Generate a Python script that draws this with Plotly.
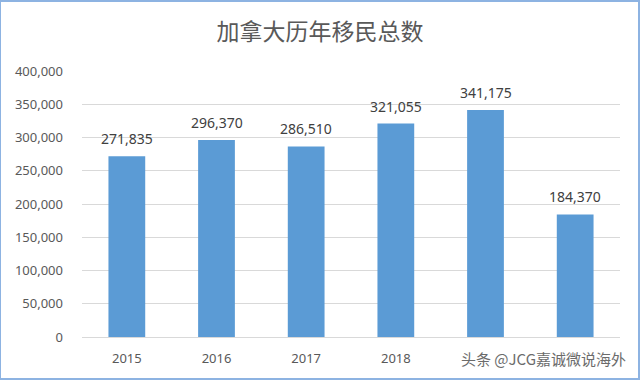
import plotly.graph_objects as go

years = ["2015", "2016", "2017", "2018", "2019", "2020"]
immigrants = [271835, 296370, 286510, 321055, 341175, 184370]
labels = [f"{v:,}" for v in immigrants]
title_text = "加拿大历年移民总数"
watermark = "头条 @JCG嘉诚微说海外"

fig = go.Figure()
fig.add_trace(go.Bar(
    x=years, y=immigrants,
    marker=dict(color="#5B9BD5", line=dict(width=0)),
))

# data labels: category index positions on the category axis
for i, (v, lab) in enumerate(zip(immigrants, labels)):
    fig.add_annotation(x=i, y=v, xref="x", yref="y", text=lab, showarrow=False,
                       yanchor="bottom", yshift=6,
                       font=dict(size=14, color="#404040", family="Noto Sans, Open Sans, sans-serif"))

fig.update_layout(
    width=640, height=380,
    margin=dict(l=82, r=20, t=71, b=43),
    paper_bgcolor="white", plot_bgcolor="white",
    bargap=0.59,
    showlegend=False,
    title=dict(text=title_text, x=0.5, xanchor="center", y=0.915, yanchor="middle",
               font=dict(size=23, color="#595959", family="Noto Sans CJK SC")),
    xaxis=dict(type="category", categoryorder="array", categoryarray=years,
               range=[-0.5, len(years) - 0.5],
               showgrid=False, showline=False, ticks="", ticklabelstandoff=12,
               tickfont=dict(size=13, color="#595959", family="Noto Sans, sans-serif")),
    yaxis=dict(range=[0, 400000], dtick=50000, tickformat=",",
               showgrid=True, gridcolor="#D9D9D9", gridwidth=1,
               zeroline=True, zerolinecolor="#D9D9D9", zerolinewidth=1,
               ticks="", ticklabelstandoff=18,
               tickfont=dict(size=13, color="#595959", family="Noto Sans, sans-serif")),
    font=dict(family="Noto Sans, sans-serif"),
)

# outer border of chart image
fig.add_shape(type="rect", xref="paper", yref="paper",
              x0=-82/538, x1=1 + 19/538, y0=-42/266, y1=1 + 70/266,
              line=dict(color="#8DB3E2", width=2), fillcolor="rgba(0,0,0,0)")

fig.add_annotation(text=watermark, xref="paper", yref="paper",
                   x=(628 - 82) / 538, y=-(358 - 337) / 266, xanchor="right", yanchor="middle",
                   showarrow=False, bgcolor="white",
                   font=dict(size=15, color="#6b6b6b", family="Noto Sans CJK SC"))

fig.write_html("out.html")
